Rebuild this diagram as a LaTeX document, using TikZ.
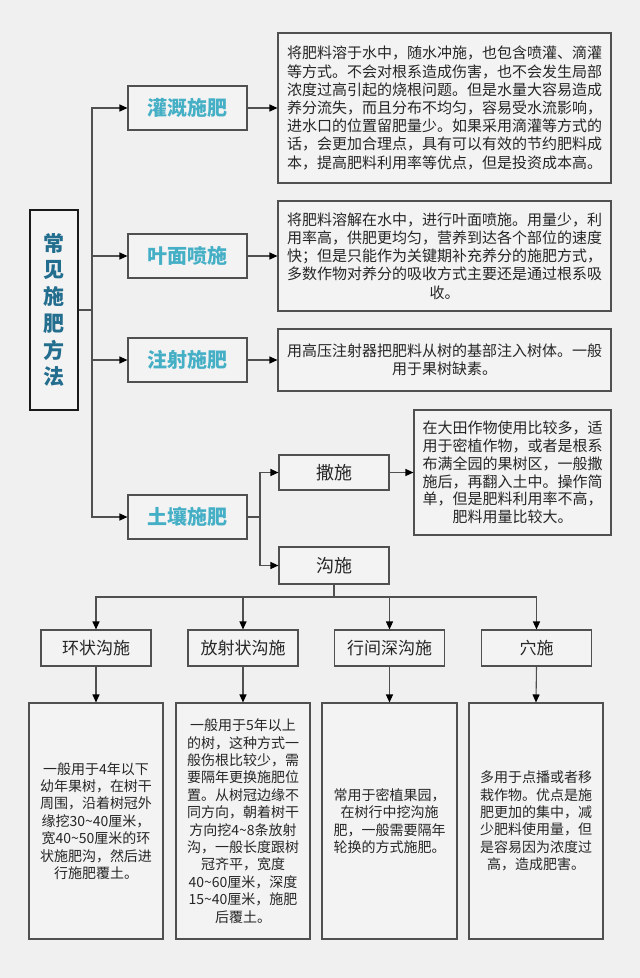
\documentclass[tikz,border=0pt]{standalone}
\usepackage{fontspec}
\setmainfont{Noto Sans CJK SC}
\usetikzlibrary{arrows.meta}
\definecolor{bgc}{HTML}{F0F0F0}
\definecolor{boxc}{HTML}{F3F3F3}
\definecolor{linec}{HTML}{505050}
\definecolor{teal}{HTML}{45AFC6}
\definecolor{titlec}{HTML}{236E8E}
\definecolor{txt}{HTML}{262626}
\tikzset{
  box/.style={draw=linec, line width=1.1pt, fill=boxc, inner sep=0pt, anchor=center, text=txt},
  lvl/.style={box, minimum width=119pt, minimum height=44pt, font=\fontsize{20pt}{24pt}\selectfont\bfseries, text=teal},
  desc/.style={box, align=center, font=\fontsize{15pt}{18.2pt}\selectfont},
  sub/.style={box, minimum width=110pt, font=\fontsize{18pt}{22pt}\selectfont},
  head/.style={box, minimum width=110pt, minimum height=36pt, font=\fontsize{17pt}{21pt}\selectfont},
  bot/.style={box, minimum height=236pt, align=center, font=\fontsize{14pt}{17.4pt}\selectfont},
  conn/.style={draw=linec, line width=1.1pt},
  arr/.style={conn, -{Triangle[length=8pt,width=7pt,color=black,fill=black]}},
}
\begin{document}
\begin{tikzpicture}[x=1pt,y=-1pt]
\useasboundingbox (0,0) rectangle (640,978);
\fill[bgc] (0,0) rectangle (640,978);
% title
\node[draw=black!90, line width=2pt, fill=boxc, minimum width=48pt, minimum height=200pt, inner sep=0pt, align=center,
  font=\fontsize{21pt}{26.7pt}\selectfont\bfseries, text=titlec] (title) at (54,310) {常\\见\\施\\肥\\方\\法};
% level 1
\node[lvl] (g1) at (187.5,108) {灌溉施肥};
\node[lvl] (g2) at (187.5,256) {叶面喷施};
\node[lvl] (g3) at (187.5,360) {注射施肥};
\node[lvl] (g4) at (187.5,517) {土壤施肥};
% descriptions
\node[desc, minimum width=333pt, minimum height=150pt] (d1) at (444.5,108) {将肥料溶于水中，随水冲施，也包含喷灌、滴灌\\等方式。不会对根系造成伤害，也不会发生局部\\浓度过高引起的烧根问题。但是水量大容易造成\\养分流失，而且分布不均匀，容易受水流影响，\\进水口的位置留肥量少。如果采用滴灌等方式的\\话，会更加合理点，具有可以有效的节约肥料成\\本，提高肥料利用率等优点，但是投资成本高。};
\node[desc, minimum width=333pt, minimum height=110pt] (d2) at (444.5,256) {将肥料溶解在水中，进行叶面喷施。用量少，利\\用率高，供肥更均匀，营养到达各个部位的速度\\快；但是只能作为关键期补充养分的施肥方式，\\多数作物对养分的吸收方式主要还是通过根系吸\\收。};
\node[desc, minimum width=333pt, minimum height=62pt] (d3) at (444.5,360) {用高压注射器把肥料从树的基部注入树体。一般\\用于果树缺素。};
% soil sub
\node[sub, minimum height=35pt] (s1) at (334,472.5) {撒施};
\node[sub, minimum height=37pt] (s2) at (334,565.5) {沟施};
\node[desc, minimum width=197pt, minimum height=125pt, font=\fontsize{15pt}{17.7pt}\selectfont] (d4) at (512.5,472.5) {在大田作物使用比较多，适\\用于密植作物，或者是根系\\布满全园的果树区，一般撒\\施后，再翻入土中。操作简\\单，但是肥料利用率不高，\\肥料用量比较大。};
% bottom headings
\node[head] (h1) at (96,648) {环状沟施};
\node[head] (h2) at (243,648) {放射状沟施};
\node[head] (h3) at (389.5,648) {行间深沟施};
\node[head] (h4) at (536.5,648) {穴施};
% bottom texts
\node[bot, minimum width=134pt] (b1) at (96,821) {一般用于4年以下\\幼年果树，在树干\\周围，沿着树冠外\\缘挖30\textasciitilde 40厘米，\\宽40\textasciitilde 50厘米的环\\状施肥沟，然后进\\行施肥覆土。};
\node[bot, minimum width=134pt] (b2) at (243,821) {一般用于5年以上\\的树，这种方式一\\般伤根比较少，需\\要隔年更换施肥位\\置。从树冠边缘不\\同方向，朝着树干\\方向挖4\textasciitilde 8条放射\\沟，一般长度跟树\\冠齐平，宽度\\40\textasciitilde 60厘米，深度\\15\textasciitilde 40厘米，施肥\\后覆土。};
\node[bot, minimum width=135pt] (b3) at (389.5,821) {常用于密植果园，\\在树行中挖沟施\\肥，一般需要隔年\\轮换的方式施肥。};
\node[bot, minimum width=134pt] (b4) at (536,821) {多用于点播或者移\\栽作物。优点是施\\肥更加的集中，减\\少肥料使用量，但\\是容易因为浓度过\\高，造成肥害。};
% connectors
\coordinate (trunk) at (92,310);
\coordinate (split) at (260,517);
\coordinate (bus) at (334,597);
\draw[conn] (title.east) -- (trunk);
\draw[arr] (trunk) |- (g1.west);
\draw[arr] (trunk) |- (g2.west);
\draw[arr] (trunk) |- (g3.west);
\draw[arr] (trunk) |- (g4.west);
\draw[arr] (g1.east) -- (d1.west);
\draw[arr] (g2.east) -- (d2.west);
\draw[arr] (g3.east) -- (d3.west);
\draw[conn] (g4.east) -- (split);
\draw[arr] (split) |- (s1.west);
\draw[arr] (split) |- (s2.west);
\draw[arr] (s1.east) -- (d4.west);
\draw[conn] (s2.south) -- (bus);
\draw[arr] (bus) -| (h1.north);
\draw[arr] (bus) -| (h2.north);
\draw[arr] (bus) -| (h3.north);
\draw[arr] (bus) -| (h4.north);
\draw[arr] (h1.south) -- (b1.north);
\draw[arr] (h2.south) -- (b2.north);
\draw[arr] (h3.south) -- (b3.north);
\draw[arr] (h4.south) -- (b4.north);
\end{tikzpicture}
\end{document}
